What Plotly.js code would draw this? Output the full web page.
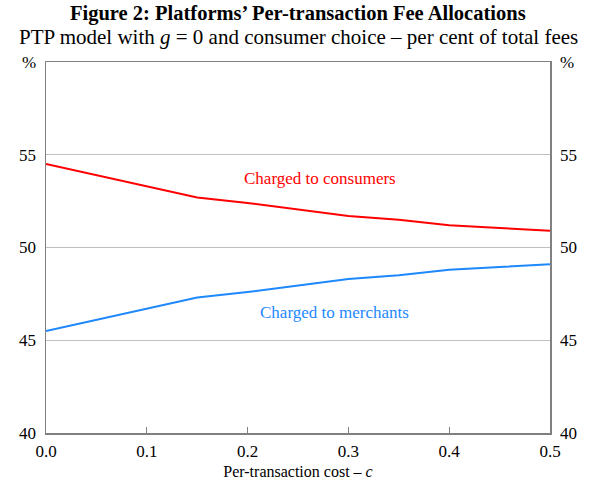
<!DOCTYPE html>
<html>
<head>
<meta charset="utf-8">
<script src="https://cdn.plot.ly/plotly-3.0.1.min.js"></script>
<style>body{margin:0;padding:0;background:#fff;}#chart{width:600px;height:482px;}</style>
</head>
<body>
<div id="chart"></div>
<script>
var cost = [0, 0.05, 0.1, 0.15, 0.2, 0.25, 0.3, 0.35, 0.4, 0.45, 0.5];
var consumers = [54.5, 53.9, 53.3, 52.7, 52.4, 52.05, 51.7, 51.5, 51.2, 51.05, 50.9];
var merchants = [45.5, 46.1, 46.7, 47.3, 47.6, 47.95, 48.3, 48.5, 48.8, 48.95, 49.1];
var yTicks = [40, 45, 50, 55, 60];
var yTickLabels = ['40', '45', '50', '55', '%'];
var xTicks = [0, 0.1, 0.2, 0.3, 0.4, 0.5];
var xTickLabels = ['0.0', '0.1', '0.2', '0.3', '0.4', '0.5'];

var font = 'Liberation Serif, Times New Roman, serif';
var traces = [
  {x: cost, y: consumers, mode: 'lines', line: {color: '#ff0000', width: 2}, hoverinfo: 'none'},
  {x: cost, y: merchants, mode: 'lines', line: {color: '#1e88ff', width: 2}, hoverinfo: 'none'},
  {x: cost, y: merchants, yaxis: 'y2', mode: 'lines', line: {width: 0}, opacity: 0, hoverinfo: 'none'}
];
var yax = {
  range: [40, 60], tickvals: yTicks, ticktext: yTickLabels, showgrid: true, gridcolor: '#c0c0c0', gridwidth: 1,
  showline: true, linecolor: '#808080', linewidth: 1.5, ticks: '', zeroline: false, ticklabelstandoff: 5,
  tickfont: {family: font, size: 17, color: '#000'}, fixedrange: true
};
var layout = {
  width: 600, height: 482,
  margin: {l: 46, r: 50, t: 62, b: 49},
  paper_bgcolor: '#fff', plot_bgcolor: '#fff',
  showlegend: false,
  xaxis: {
    range: [0, 0.5], tickvals: xTicks, ticktext: xTickLabels, showgrid: false, zeroline: false,
    showline: true, mirror: true, linecolor: '#808080', linewidth: 1.5,
    ticks: 'inside', ticklen: 6, tickcolor: '#808080', tickwidth: 1, ticklabelstandoff: 2,
    tickfont: {family: font, size: 17, color: '#000'},
    title: {text: 'Per-transaction cost – <i>c</i>', font: {family: font, size: 16, color: '#000'}, standoff: 6}
  },
  yaxis: yax,
  yaxis2: Object.assign({}, yax, {overlaying: 'y', side: 'right', showgrid: false}),
  annotations: [
    {text: '<b>Figure 2: Platforms’ Per-transaction Fee Allocations</b>', xref: 'paper', yref: 'paper', x: 0.5, y: 1, yanchor: 'middle', yshift: 49, showarrow: false, font: {family: font, size: 20.5, color: '#000'}},
    {text: 'PTP model with <i>g</i> = 0 and consumer choice – per cent of total fees', xref: 'paper', yref: 'paper', x: 0.5, y: 1, yanchor: 'middle', yshift: 25, showarrow: false, font: {family: font, size: 21, color: '#000'}},
    {text: 'Charged to consumers', x: 0.272, y: 53.7, showarrow: false, font: {family: font, size: 17, color: '#ff0000'}},
    {text: 'Charged to merchants', x: 0.286, y: 46.5, showarrow: false, font: {family: font, size: 17, color: '#1e88ff'}}
  ]
};
Plotly.newPlot('chart', traces, layout, {staticPlot: true});
</script>
</body>
</html>
